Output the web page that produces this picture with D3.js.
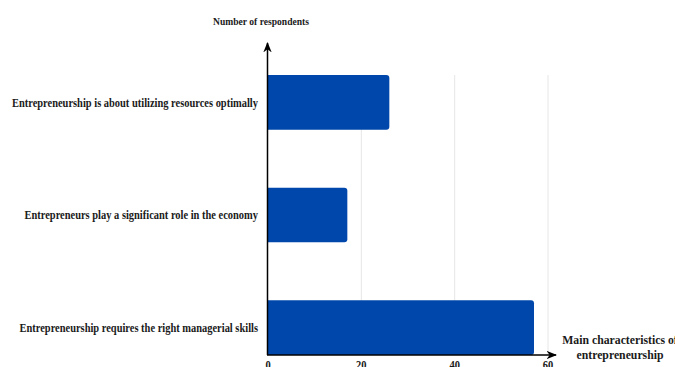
<!DOCTYPE html>
<html>
<head>
<meta charset="utf-8">
<script src="https://cdn.jsdelivr.net/npm/d3@7"></script>
<style>
  html, body { margin: 0; padding: 0; background: #fff; }
  svg { display: block; }
  text { font-family: "Liberation Serif", "Times New Roman", serif; font-weight: bold; fill: #1a1a1a; }
</style>
</head>
<body>
<svg id="chart" width="675" height="367"></svg>
<script>
// Survey answers: how respondents characterise entrepreneurship
const categories = [
  "Entrepreneurship is about utilizing resources optimally",
  "Entrepreneurs play a significant role in the economy",
  "Entrepreneurship requires the right managerial skills"
];
const respondents = [26, 17, 57];
const tickValues = [0, 20, 40, 60];

const svg = d3.select("#chart");
const plot = { left: 268, right: 548, top: 75, bottom: 355 };

const x = d3.scaleLinear().domain([0, 60]).range([plot.left, plot.right]);
const y = d3.scaleBand().domain(categories).range([plot.top, plot.bottom])
  .paddingInner(0.515).paddingOuter(0);

// narrow typeface look: squeeze glyphs horizontally
const squeeze = 0.87;
function condense(sel) {
  sel.each(function () {
    const w = this.getComputedTextLength();
    d3.select(this).attr("textLength", w * squeeze).attr("lengthAdjust", "spacingAndGlyphs");
  });
}

// light vertical gridlines
svg.append("g").selectAll("line")
  .data(tickValues.filter(d => d > 0))
  .join("line")
  .attr("x1", d => x(d)).attr("x2", d => x(d))
  .attr("y1", plot.top).attr("y2", plot.bottom)
  .attr("stroke", "#e6e6e6").attr("stroke-width", 1);

// bars with rounded outer end
const r = 3;
svg.append("g").selectAll("path")
  .data(categories.map((c, i) => ({ c, v: respondents[i] })))
  .join("path")
  .attr("fill", "#0047ab")
  .attr("d", d => {
    const x0 = x(0), x1 = x(d.v), y0 = y(d.c), h = y.bandwidth();
    return `M${x0},${y0}H${x1 - r}Q${x1},${y0} ${x1},${y0 + r}` +
           `V${y0 + h - r}Q${x1},${y0 + h} ${x1 - r},${y0 + h}H${x0}Z`;
  });

// category labels
svg.append("g").selectAll("text")
  .data(categories)
  .join("text")
  .attr("x", 258)
  .attr("y", d => y(d) + y.bandwidth() / 2)
  .attr("dy", "0.35em")
  .attr("text-anchor", "end")
  .attr("font-size", 12)
  .text(d => d)
  .call(condense);

// x tick labels
svg.append("g").selectAll("text")
  .data(tickValues)
  .join("text")
  .attr("x", d => x(d))
  .attr("y", 369)
  .attr("text-anchor", "middle")
  .attr("font-size", 12)
  .text(d => d)
  .call(condense);

// arrow marker for the axes
svg.append("defs").append("marker")
  .attr("id", "arrow")
  .attr("viewBox", "0 0 10 10")
  .attr("refX", 9).attr("refY", 5)
  .attr("markerWidth", 7).attr("markerHeight", 7)
  .attr("orient", "auto")
  .append("path").attr("d", "M0,1L10,5L0,9L3,5Z").attr("fill", "#000");

svg.append("line")
  .attr("x1", plot.left - 0.5).attr("y1", plot.bottom)
  .attr("x2", plot.left - 0.5).attr("y2", 43)
  .attr("stroke", "#000").attr("stroke-width", 1.5)
  .attr("marker-end", "url(#arrow)");

svg.append("line")
  .attr("x1", plot.left - 1).attr("y1", plot.bottom)
  .attr("x2", 556).attr("y2", plot.bottom)
  .attr("stroke", "#000").attr("stroke-width", 1.5)
  .attr("marker-end", "url(#arrow)");

// axis titles
svg.append("text")
  .attr("x", 261).attr("y", 25)
  .attr("text-anchor", "middle")
  .attr("font-size", 11)
  .text("Number of respondents")
  .call(condense);

const xTitle = ["Main characteristics of", "entrepreneurship"];
svg.append("g").selectAll("text")
  .data(xTitle)
  .join("text")
  .attr("x", 620)
  .attr("y", (d, i) => 344 + i * 15)
  .attr("text-anchor", "middle")
  .attr("font-size", 13.5)
  .text(d => d)
  .call(condense);
</script>
</body>
</html>
